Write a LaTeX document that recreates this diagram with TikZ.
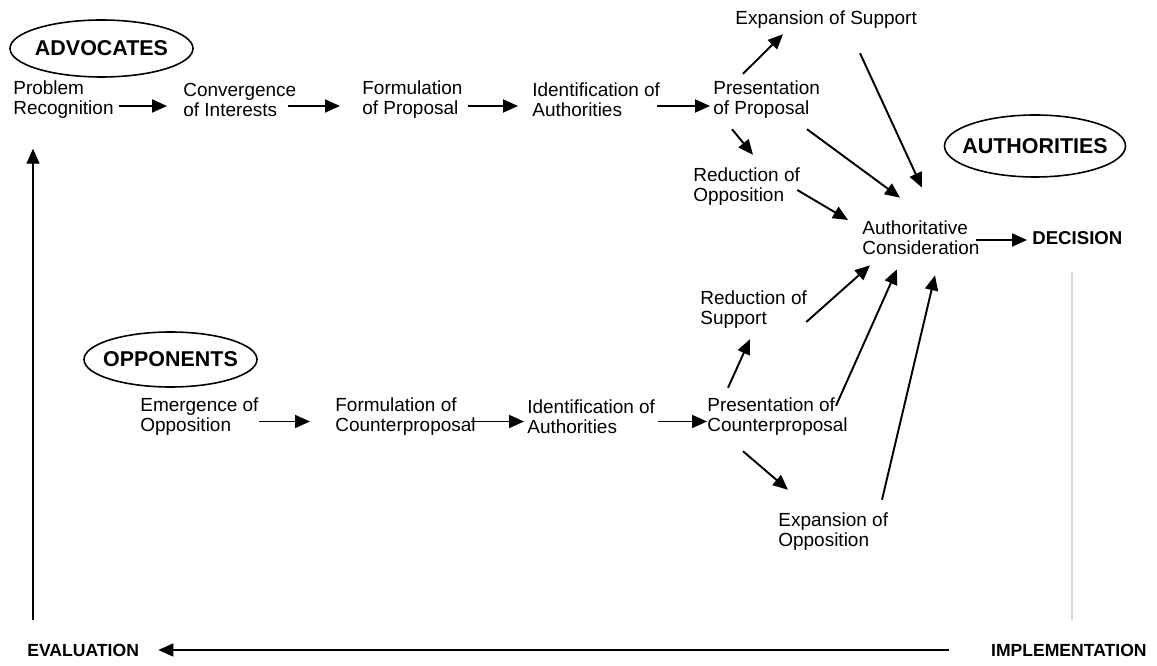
\documentclass[tikz,border=0pt]{standalone}
\usepackage{fontspec}
\setmainfont{Liberation Sans}
\usetikzlibrary{arrows.meta,shapes.geometric}

\begin{document}
\begin{tikzpicture}[
	lbl/.style={anchor=west, align=left, inner sep=0pt, font=\fontsize{10.8}{11.4}\selectfont},
	actor/.style={draw, ellipse, line width=0.9pt, inner xsep=-6pt, inner ysep=0pt, font=\bfseries\fontsize{12.2}{14}\selectfont},
	stage/.style={inner sep=0pt, font=\bfseries\fontsize{10}{12}\selectfont},
	arr/.style={line width=1.1pt, -{Triangle[length=0.30cm,width=0.26cm]}}]
	\useasboundingbox (0,0) rectangle (23.14,13.30);
		\node[actor, minimum width=3.66cm, minimum height=1.14cm] (Adv) at (2.03,12.33) {ADVOCATES};
		\node[actor, minimum width=3.46cm, minimum height=1.10cm] (Opp) at (3.41,6.11) {OPPONENTS};
		\node[actor, minimum width=3.62cm, minimum height=1.24cm] (Auth) at (20.70,10.38) {AUTHORITIES};
		\node[lbl] (A1) at (0.26,11.30) {Problem\\Recognition};
		\node[lbl] (A2) at (3.66,11.30) {Convergence\\of Interests};
		\node[lbl] (A3) at (7.24,11.30) {Formulation\\of Proposal};
		\node[lbl] (A4) at (10.64,11.30) {Identification of\\Authorities};
		\node[lbl] (A5) at (14.26,11.30) {Presentation\\of Proposal};
		\node[lbl] (S1) at (14.70,12.90) {Expansion of Support};
		\node[lbl] (S2) at (13.86,9.56) {Reduction of\\Opposition};
		\node[lbl] (C) at (17.24,8.54) {Authoritative\\Consideration};
		\node[lbl, font=\bfseries\fontsize{10.6}{12}\selectfont] (D) at (20.64,8.54) {DECISION};
		\node[lbl] (O1) at (2.80,4.96) {Emergence of\\Opposition};
		\node[lbl] (O2) at (6.70,4.96) {Formulation of\\Counterproposal};
		\node[lbl] (O3) at (10.54,4.96) {Identification of\\Authorities};
		\node[lbl] (O4) at (14.14,4.96) {Presentation of\\Counterproposal};
		\node[lbl] (R1) at (14.00,7.10) {Reduction of\\Support};
		\node[lbl] (R2) at (15.56,2.66) {Expansion of\\Opposition};
		\node[stage, anchor=west] (E) at (0.54,0.30) {EVALUATION};
		\node[stage, anchor=east] (I) at (22.94,0.30) {IMPLEMENTATION};
		\coordinate (X) at (0.66,0);
		\coordinate (Y) at (21.44,0);
		\foreach \a/\b/\s/\t/\y in {A1/A2/0.10/-0.32/-0.12, A2/A3/-0.18/-0.44/-0.12, A3/A4/0.10/-0.28/-0.12, A4/A5/-0.06/-0.06/-0.12,
			O1/O2/0.00/-0.50/-0.09, O2/O3/-0.10/-0.06/-0.09, O3/O4/0.06/0.00/-0.09}{
				\draw[arr] ([shift={(\s,\y)}]\a.east) -- ([shift={(\t,\y)}]\b.west);}
		\draw[arr] ([shift={(0.60,0.14)}]A5.north west) -- ([shift={(0.96,-0.10)}]S1.south west);
		\draw[arr] ([shift={(0.38,-0.20)}]A5.south west) -- ([shift={(1.20,0.26)}]S2.north west);
		\draw[arr] ([shift={(1.88,-0.20)}]A5.south west) -- ([shift={(0.76,0.46)}]C.north west);
		\draw[arr] ([shift={(2.50,-0.48)}]S1.south west) -- ([shift={(1.20,0.66)}]C.north west);
		\draw[arr] ([shift={(-0.06,-0.06)}]S2.east) -- ([shift={(-0.28,0.36)}]C.west);
		\draw[arr] ([shift={(-0.08,-0.04)}]C.east) -- ([shift={(-0.10,-0.04)}]D.west);
		\draw[arr] ([shift={(0.42,0.20)}]O4.north west) -- ([shift={(1.00,-0.20)}]R1.south west);
		\draw[arr] ([shift={(2.58,-0.16)}]O4.north west) -- ([shift={(0.70,-0.28)}]C.south west);
		\draw[arr] ([shift={(-0.02,-0.24)}]R1.east) -- ([shift={(0.16,-0.20)}]C.south west);
		\draw[arr] ([shift={(0.72,-0.30)}]O4.south west) -- ([shift={(0.20,0.46)}]R2.north west);
		\draw[arr] ([shift={(2.08,0.26)}]R2.north west) -- ([shift={(1.46,-0.40)}]C.south west);
		\draw[arr, line width=0.8pt, shorten <=0.84cm, shorten >=0.38cm] (I.west) -- (E.east);
		\draw[arr, line width=0.8pt, shorten <=0.46cm, shorten >=0.59cm] (E.north -| X) -- (A1.south -| X);
		\draw[black!15, line width=0.8pt, shorten <=0.54cm, shorten >=0.46cm] (D.south -| Y) -- (I.north -| Y);
\end{tikzpicture}
\end{document}
